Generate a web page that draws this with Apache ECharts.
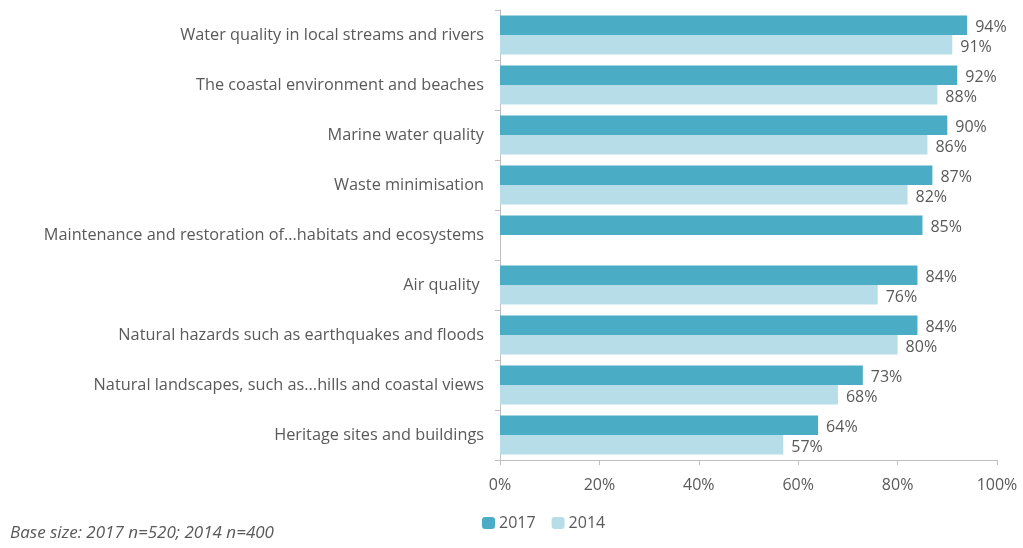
<!DOCTYPE html>
<html><head><meta charset="utf-8">
<script src="https://cdn.jsdelivr.net/npm/echarts@6/dist/echarts.min.js"></script>
<style>html,body{margin:0;padding:0;background:#fff}#c{width:1023px;height:548px}</style>
</head><body><div id="c"></div>
<script>
const categories = [
  "Water quality in local streams and rivers",
  "The coastal environment and beaches",
  "Marine water quality",
  "Waste minimisation",
  "Maintenance and restoration of...habitats and ecosystems",
  "Air quality ",
  "Natural hazards such as earthquakes and floods",
  "Natural landscapes, such as...hills and coastal views",
  "Heritage sites and buildings"
];
const values2017 = [94, 92, 90, 87, 85, 84, 84, 73, 64];
const values2014 = [91, 88, 86, 82, null, 76, 80, 68, 57];
const xTicks = [0, 20, 40, 60, 80, 100];
const footnote = "Base size: 2017 n=520; 2014 n=400";

const FONT = "'Open Sans', Lato, sans-serif";
const TXT = "#595959";
const chart = echarts.init(document.getElementById('c'));
chart.setOption({
  animation: false,
  textStyle: { fontFamily: FONT },
  grid: { left: 500, right: 26, top: 10, bottom: 88, containLabel: false },
  legend: {
    left: 477, top: 510, itemWidth: 13, itemHeight: 12, itemGap: 16,
    textStyle: { color: TXT, fontSize: 16, fontFamily: FONT, padding: [0, 0, 0, -1] },
    data: ['2017', '2014']
  },
  graphic: [{
    type: 'text', left: 10, top: 525,
    style: { text: footnote, fill: TXT, font: "italic 17px " + FONT }
  }],
  xAxis: {
    type: 'value', min: xTicks[0], max: xTicks[xTicks.length - 1], interval: 20,
    axisLine: { show: true, lineStyle: { color: '#bfbfbf' } },
    axisTick: { show: true, length: 5, lineStyle: { color: '#bfbfbf' } },
    splitLine: { show: false },
    axisLabel: { color: TXT, fontSize: 16, margin: 17, formatter: v => v + '%' }
  },
  yAxis: {
    type: 'category', inverse: true, data: categories,
    axisLine: { show: true, lineStyle: { color: '#bfbfbf' } },
    axisTick: { show: true, length: 5, lineStyle: { color: '#bfbfbf' } },
    axisLabel: { color: TXT, fontSize: 16.3, margin: 16 }
  },
  series: [
    {
      name: '2017', type: 'bar', data: values2017,
      barGap: '0%', barCategoryGap: '22%',
      itemStyle: { color: '#4bacc6' },
      label: { show: true, position: 'right', distance: 8, offset: [0, 2], color: TXT, fontSize: 16, formatter: p => p.value + '%' }
    },
    {
      name: '2014', type: 'bar', data: values2014,
      itemStyle: { color: '#b7dee8' },
      label: { show: true, position: 'right', distance: 8, offset: [0, 3], color: TXT, fontSize: 16, formatter: p => p.value == null ? '' : p.value + '%' }
    }
  ]
});
</script></body></html>
